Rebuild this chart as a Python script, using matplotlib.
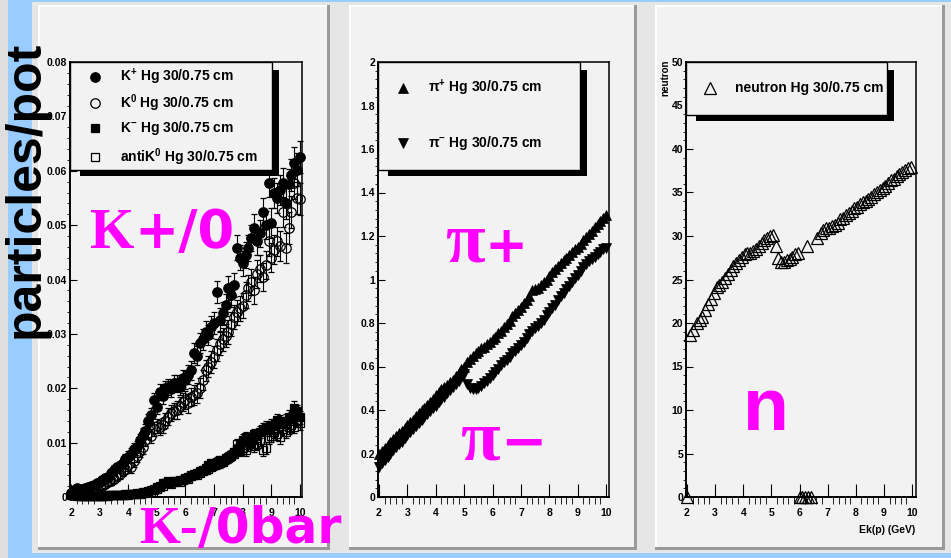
import matplotlib
matplotlib.use("Agg")
import matplotlib.pyplot as plt
from matplotlib.patches import Rectangle
from matplotlib.lines import Line2D
from matplotlib.ticker import MultipleLocator

plt.rcParams['font.family'] = ['Liberation Sans', 'DejaVu Sans']
plt.rcParams['font.weight'] = 'bold'
plt.rcParams['mathtext.fontset'] = 'custom'
plt.rcParams['mathtext.rm'] = 'Liberation Sans:bold'
plt.rcParams['mathtext.it'] = 'Liberation Sans:bold'
plt.rcParams['mathtext.bf'] = 'Liberation Sans:bold'

# ---- data ----
energy = [2.0, 2.1, 2.2, 2.3, 2.4, 2.5, 2.6, 2.7, 2.8, 2.9,
          3.0, 3.1, 3.2, 3.3, 3.4, 3.5, 3.6, 3.7, 3.8, 3.9,
          4.0, 4.1, 4.2, 4.3, 4.4, 4.5, 4.6, 4.7, 4.8, 4.9,
          5.0, 5.1, 5.2, 5.3, 5.4, 5.5, 5.6, 5.7, 5.8, 5.9,
          6.0, 6.1, 6.2, 6.3, 6.4, 6.5, 6.6, 6.7, 6.8, 6.9,
          7.0, 7.1, 7.2, 7.3, 7.4, 7.5, 7.6, 7.7, 7.8, 7.9,
          8.0, 8.1, 8.2, 8.3, 8.4, 8.5, 8.6, 8.7, 8.8, 8.9,
          9.0, 9.1, 9.2, 9.3, 9.4, 9.5, 9.6, 9.7, 9.8, 9.9,
          10.0]

kplus = [0.0008, 0.0012, 0.0017, 0.0010, 0.0014, 0.0016, 0.0019, 0.0021, 0.0022, 0.0026,
         0.0028, 0.0031, 0.0035, 0.0036, 0.0044, 0.0050, 0.0055, 0.0057, 0.0063, 0.0070,
         0.0074, 0.0080, 0.0088, 0.0092, 0.0105, 0.0114, 0.0122, 0.0140, 0.0151, 0.0178,
         0.0165, 0.0193, 0.0185, 0.0200, 0.0202, 0.0198, 0.0210, 0.0209, 0.0203, 0.0218,
         0.0215, 0.0225, 0.0233, 0.0265, 0.0260, 0.0283, 0.0290, 0.0304, 0.0298, 0.0313,
         0.0320, 0.0377, 0.0326, 0.0338, 0.0353, 0.0384, 0.0372, 0.0390, 0.0458, 0.0440,
         0.0430, 0.0445, 0.0458, 0.0476, 0.0495, 0.0470, 0.0485, 0.0524, 0.0500, 0.0577,
         0.0504, 0.0559, 0.0550, 0.0565, 0.0577, 0.0540, 0.0575, 0.0592, 0.0614, 0.0602,
         0.0625]

k0 = [0.0004, 0.0006, 0.0005, 0.0008, 0.0007, 0.0010, 0.0011, 0.0012, 0.0014, 0.0016,
      0.0019, 0.0021, 0.0024, 0.0027, 0.0030, 0.0034, 0.0038, 0.0042, 0.0048, 0.0052,
      0.0058, 0.0055, 0.0066, 0.0075, 0.0085, 0.0092, 0.0105, 0.0118, 0.0112, 0.0125,
      0.0131, 0.0128, 0.0132, 0.0140, 0.0148, 0.0154, 0.0158, 0.0160, 0.0168, 0.0175,
      0.0178, 0.0172, 0.0184, 0.0188, 0.0191, 0.0200, 0.0215, 0.0233, 0.0240, 0.0248,
      0.0258, 0.0270, 0.0282, 0.0290, 0.0297, 0.0304, 0.0318, 0.0331, 0.0340, 0.0347,
      0.0352, 0.0372, 0.0385, 0.0395, 0.0380, 0.0410, 0.0420, 0.0405, 0.0427, 0.0470,
      0.0440, 0.0455, 0.0470, 0.0462, 0.0524, 0.0458, 0.0495, 0.0524, 0.0577, 0.0550,
      0.0548]

kminus = [0.0005, 0.0004, 0.0003, 0.0003, 0.0002, 0.0002, 0.0002, 0.0002, 0.0002, 0.0002,
          0.0002, 0.0002, 0.0003, 0.0003, 0.0003, 0.0003, 0.0004, 0.0004, 0.0004, 0.0005,
          0.0005, 0.0006, 0.0006, 0.0007, 0.0008, 0.0009, 0.0010, 0.0011, 0.0013, 0.0015,
          0.0018, 0.0021, 0.0026, 0.0025, 0.0028, 0.0027, 0.0030, 0.0029, 0.0032, 0.0031,
          0.0035, 0.0037, 0.0040, 0.0042, 0.0044, 0.0048, 0.0050, 0.0053, 0.0058, 0.0062,
          0.0060, 0.0065, 0.0068, 0.0066, 0.0072, 0.0074, 0.0078, 0.0082, 0.0088, 0.0095,
          0.0105, 0.0110, 0.0102, 0.0108, 0.0115, 0.0112, 0.0120, 0.0125, 0.0129, 0.0124,
          0.0132, 0.0130, 0.0142, 0.0138, 0.0135, 0.0140, 0.0148, 0.0145, 0.0164, 0.0158,
          0.0147]

antik0 = [0.0003, 0.0003, 0.0002, 0.0002, 0.0002, 0.0001, 0.0001, 0.0002, 0.0001, 0.0002,
          0.0002, 0.0002, 0.0002, 0.0002, 0.0003, 0.0003, 0.0003, 0.0003, 0.0004, 0.0004,
          0.0004, 0.0005, 0.0005, 0.0006, 0.0006, 0.0007, 0.0008, 0.0009, 0.0010, 0.0012,
          0.0014, 0.0018, 0.0021, 0.0026, 0.0029, 0.0024, 0.0027, 0.0030, 0.0028, 0.0031,
          0.0034, 0.0033, 0.0038, 0.0040, 0.0041, 0.0045, 0.0047, 0.0050, 0.0052, 0.0055,
          0.0058, 0.0060, 0.0062, 0.0065, 0.0069, 0.0072, 0.0075, 0.0080, 0.0098, 0.0085,
          0.0090, 0.0086, 0.0095, 0.0100, 0.0093, 0.0098, 0.0104, 0.0086, 0.0090, 0.0108,
          0.0112, 0.0120, 0.0115, 0.0110, 0.0125, 0.0120, 0.0128, 0.0132, 0.0129, 0.0140,
          0.0136]

# error bars: K+ / K0 share one size, K- / antiK0 another
err_kpos = [0.0003, 0.0003, 0.0004, 0.0004, 0.0004, 0.0005, 0.0005, 0.0005, 0.0006, 0.0006,
            0.0006, 0.0007, 0.0007, 0.0007, 0.0008, 0.0008, 0.0008, 0.0009, 0.0009, 0.0009,
            0.0010, 0.0010, 0.0011, 0.0011, 0.0011, 0.0012, 0.0012, 0.0012, 0.0013, 0.0013,
            0.0013, 0.0014, 0.0014, 0.0014, 0.0015, 0.0015, 0.0015, 0.0016, 0.0016, 0.0016,
            0.0017, 0.0017, 0.0017, 0.0018, 0.0018, 0.0018, 0.0019, 0.0019, 0.0019, 0.0020,
            0.0020, 0.0020, 0.0021, 0.0021, 0.0021, 0.0022, 0.0022, 0.0022, 0.0023, 0.0023,
            0.0023, 0.0024, 0.0024, 0.0024, 0.0025, 0.0025, 0.0025, 0.0026, 0.0026, 0.0026,
            0.0027, 0.0027, 0.0027, 0.0028, 0.0028, 0.0028, 0.0029, 0.0029, 0.0029, 0.0030,
            0.0030]

err_kneg = [0.0001, 0.0001, 0.0001, 0.0001, 0.0001, 0.0001, 0.0001, 0.0001, 0.0001, 0.0001,
            0.0001, 0.0001, 0.0001, 0.0001, 0.0002, 0.0002, 0.0002, 0.0002, 0.0002, 0.0002,
            0.0002, 0.0002, 0.0002, 0.0003, 0.0003, 0.0003, 0.0003, 0.0003, 0.0003, 0.0004,
            0.0004, 0.0004, 0.0004, 0.0004, 0.0005, 0.0005, 0.0005, 0.0005, 0.0005, 0.0005,
            0.0006, 0.0006, 0.0006, 0.0006, 0.0006, 0.0007, 0.0007, 0.0007, 0.0007, 0.0007,
            0.0008, 0.0008, 0.0008, 0.0008, 0.0008, 0.0009, 0.0009, 0.0009, 0.0009, 0.0009,
            0.0010, 0.0010, 0.0010, 0.0010, 0.0010, 0.0010, 0.0011, 0.0011, 0.0011, 0.0011,
            0.0011, 0.0011, 0.0011, 0.0012, 0.0012, 0.0012, 0.0012, 0.0012, 0.0012, 0.0012,
            0.0012]

piplus = [0.200, 0.212, 0.225, 0.240, 0.255, 0.265, 0.280, 0.292, 0.305, 0.318,
          0.330, 0.345, 0.356, 0.372, 0.385, 0.398, 0.410, 0.425, 0.438, 0.452,
          0.470, 0.485, 0.495, 0.505, 0.515, 0.528, 0.540, 0.555, 0.572, 0.590,
          0.600, 0.620, 0.635, 0.648, 0.660, 0.672, 0.685, 0.690, 0.702, 0.712,
          0.725, 0.735, 0.752, 0.765, 0.780, 0.795, 0.810, 0.830, 0.845, 0.860,
          0.875, 0.890, 0.905, 0.925, 0.950, 0.955, 0.962, 0.975, 0.990, 1.000,
          1.015, 1.035, 1.050, 1.062, 1.075, 1.090, 1.100, 1.112, 1.125, 1.138,
          1.150, 1.165, 1.180, 1.195, 1.210, 1.225, 1.240, 1.255, 1.270, 1.285,
          1.295]

piminus = [0.140, 0.155, 0.170, 0.185, 0.200, 0.215, 0.228, 0.242, 0.255, 0.270,
           0.285, 0.300, 0.312, 0.325, 0.340, 0.355, 0.368, 0.382, 0.395, 0.408,
           0.420, 0.438, 0.450, 0.462, 0.478, 0.492, 0.505, 0.520, 0.535, 0.550,
           0.565, 0.520, 0.500, 0.495, 0.498, 0.502, 0.510, 0.522, 0.535, 0.548,
           0.560, 0.575, 0.590, 0.605, 0.620, 0.632, 0.645, 0.660, 0.672, 0.685,
           0.698, 0.712, 0.730, 0.748, 0.762, 0.775, 0.788, 0.800, 0.815, 0.835,
           0.850, 0.868, 0.885, 0.905, 0.925, 0.940, 0.955, 0.970, 0.990, 1.005,
           1.020, 1.040, 1.058, 1.072, 1.085, 1.095, 1.105, 1.118, 1.128, 1.138,
           1.145]

neutron_x = [2.0, 2.1, 2.2, 2.35, 2.45, 2.55, 2.65, 2.75, 2.85, 2.95,
             3.05, 3.15, 3.25, 3.35, 3.45, 3.55, 3.65, 3.75, 3.85, 3.95,
             4.05, 4.15, 4.25, 4.35, 4.45, 4.55, 4.65, 4.75, 4.85, 4.95,
             5.05, 5.15, 5.25, 5.35, 5.45, 5.55, 5.65, 5.75, 5.85, 5.95,
             6.0, 6.1, 6.2, 6.27, 6.3, 6.4, 6.63, 6.75, 6.85, 6.95,
             7.05, 7.15, 7.25, 7.35, 7.45, 7.55, 7.65, 7.75, 7.85, 7.95,
             8.05, 8.15, 8.25, 8.35, 8.45, 8.55, 8.65, 8.75, 8.85, 8.95,
             9.05, 9.15, 9.25, 9.35, 9.45, 9.55, 9.65, 9.75, 9.85, 9.95]
neutron_y = [0.0, 18.6, 19.2, 20.0, 20.3, 20.7, 21.5, 22.2, 22.8, 23.5,
             24.1, 24.4, 24.7, 25.2, 25.6, 26.1, 26.5, 26.9, 27.2, 27.6,
             27.9, 28.0, 28.1, 28.3, 28.5, 28.8, 29.2, 29.5, 29.8, 30.0,
             30.1, 28.8, 27.5, 27.0, 27.0, 27.2, 27.4, 27.6, 27.9, 28.1,
             0.0, 0.0, 0.0, 28.8, 0.0, 0.0, 29.8, 30.3, 30.7, 30.9,
             30.9, 31.1, 31.3, 31.5, 31.9, 32.1, 32.4, 32.6, 32.9, 33.2,
             33.3, 33.7, 33.9, 34.0, 34.2, 34.5, 34.8, 35.1, 35.3, 35.5,
             35.8, 36.1, 36.4, 36.6, 36.9, 37.1, 37.3, 37.6, 37.8, 37.9]

x_ticks = [2, 3, 4, 5, 6, 7, 8, 9, 10]
x_tick_labels = ['2', '3', '4', '5', '6', '7', '8', '9', '10']
k_yticks = [0, 0.01, 0.02, 0.03, 0.04, 0.05, 0.06, 0.07, 0.08]
k_ylabels = ['0', '0.01', '0.02', '0.03', '0.04', '0.05', '0.06', '0.07', '0.08']
pi_yticks = [0, 0.2, 0.4, 0.6, 0.8, 1.0, 1.2, 1.4, 1.6, 1.8, 2.0]
pi_ylabels = ['0', '0.2', '0.4', '0.6', '0.8', '1', '1.2', '1.4', '1.6', '1.8', '2']
n_yticks = [0, 5, 10, 15, 20, 25, 30, 35, 40, 45, 50]
n_ylabels = ['0', '5', '10', '15', '20', '25', '30', '35', '40', '45', '50']

# ---- figure in pixel coordinates ----
W, H = 951, 558
fig = plt.figure(figsize=(W / 100, H / 100), dpi=100, facecolor='#dedede')


def fx(px):
    return px / W


def fy(py):
    return 1 - py / H


def rect(x0, y0, x1, y1, zorder=-5, **kw):
    fig.add_artist(Rectangle((fx(x0), fy(y1)), (x1 - x0) / W, (y1 - y0) / H,
                             transform=fig.transFigure, zorder=zorder, **kw))


# background, blue frame and the three pads
rect(8, 0, 32, 558, fc='#99ccff', lw=0)
rect(32, 0, 951, 2, fc='#99ccff', lw=0)
rect(32, 553, 951, 558, fc='#99ccff', lw=0)
rect(32, 2, 951, 553, fc='#e6e6e6', lw=0)
for x0, x1 in [(38, 330), (349, 637), (655, 945)]:
    rect(x0, 5, x1, 550, fc='#9a9a9a', lw=0)
    rect(x0, 5, x1 - 3, 547, fc='white', lw=0)
    rect(x0 + 2, 7, x1 - 3, 547, fc='#f2f2f2', lw=0)


def make_axes(left, right, xmax, ymax, yticks, ylabels, yminor):
    ax = fig.add_axes([fx(left), fy(497), (right - left) / W, (497 - 62) / H])
    ax.set_facecolor('none')
    ax.set_xlim(1.965, xmax)
    ax.set_ylim(0, ymax)
    ax.set_xticks(x_ticks, labels=x_tick_labels)
    ax.set_yticks(yticks, labels=ylabels)
    ax.xaxis.set_minor_locator(MultipleLocator(0.2))
    ax.yaxis.set_minor_locator(MultipleLocator(yminor))
    ax.tick_params(direction='in', top=False, right=False, width=0.8)
    ax.tick_params(axis='x', which='major', length=9.5, pad=8, labelsize=7.5)
    ax.tick_params(axis='x', which='minor', length=5)
    ax.tick_params(axis='y', which='major', length=5, pad=2, labelsize=7.5)
    ax.tick_params(axis='y', which='minor', length=2.5)
    for s in ax.spines.values():
        s.set_linewidth(1.1)
    ax.spines['left'].set_linewidth(1.4)
    ax.spines['bottom'].set_linewidth(1.4)
    return ax


ax1 = make_axes(70, 302, 10.07, 0.08, k_yticks, k_ylabels, 0.002)
ax2 = make_axes(378, 609, 10.1, 2.0, pi_yticks, pi_ylabels, 0.04)
ax3 = make_axes(686, 916, 10.14, 50, n_yticks, n_ylabels, 1)

styles = {
    'kplus': dict(marker='o', ms=6.8, mfc='black', mec='black', mew=0.9),
    'k0': dict(marker='o', ms=6.8, mfc='none', mec='black', mew=0.9),
    'kminus': dict(marker='s', ms=5.8, mfc='black', mec='black', mew=0.9),
    'antik0': dict(marker='s', ms=6.0, mfc='none', mec='black', mew=0.9),
    'piplus': dict(marker='^', ms=7, mfc='black', mec='black', mew=0.5),
    'piminus': dict(marker='v', ms=7, mfc='black', mec='black', mew=0.5),
    'neutron': dict(marker='^', ms=8, mfc='none', mec='black', mew=0.9),
}

eb = dict(ls='none', ecolor='black', elinewidth=0.8, capsize=2, capthick=0.8, clip_on=False)
ax1.errorbar(energy, kplus, yerr=err_kpos, **eb, **styles['kplus'])
ax1.errorbar(energy, k0, yerr=err_kpos, **eb, **styles['k0'])
ax1.errorbar(energy, kminus, yerr=err_kneg, **eb, **styles['kminus'])
ax1.errorbar(energy, antik0, yerr=err_kneg, **eb, **styles['antik0'])

ax2.plot(energy, piplus, ls='none', clip_on=False, **styles['piplus'])
ax2.plot(energy, piminus, ls='none', clip_on=False, **styles['piminus'])

ax3.plot(neutron_x, neutron_y, ls='none', clip_on=False, **styles['neutron'])

fig.text(fx(665.5), fy(60), 'neutron', rotation=90, ha='center', va='top', fontsize=7)
fig.text(fx(915), fy(530), 'Ek(p) (GeV)', ha='right', va='center', fontsize=7.5)


# ---- ROOT-style legends with black drop shadow ----
def legend_box(box, entries, mx, tx):
    x0, y0, x1, y1 = box
    rect(x0 + 10, y0 + 8, x1 + 7, y1 + 6, zorder=5, fc='black', lw=0)
    rect(x0, y0, x1, y1, zorder=6, fc='#f2f2f2', ec='black', lw=1)
    for row_y, key, label in entries:
        fig.add_artist(Line2D([fx(mx)], [fy(row_y)], ls='none', transform=fig.transFigure,
                              zorder=7, **styles[key]))
        fig.text(fx(tx), fy(row_y), label, ha='left', va='center', fontsize=10, zorder=7)


legend_box((70, 62, 272, 170),
           [(77, 'kplus', 'K$^{+}$ Hg 30/0.75 cm'),
            (103, 'k0', 'K$^{0}$ Hg 30/0.75 cm'),
            (128, 'kminus', 'K$^{-}$ Hg 30/0.75 cm'),
            (157, 'antik0', 'antiK$^{0}$ Hg 30/0.75 cm')], 95, 120)
legend_box((378, 62, 580, 170),
           [(88, 'piplus', 'π$^{+}$ Hg 30/0.75 cm'),
            (143, 'piminus', 'π$^{-}$ Hg 30/0.75 cm')], 403, 428)
legend_box((686, 62, 887, 115),
           [(88, 'neutron', 'neutron Hg 30/0.75 cm')], 710, 735)

# ---- big annotations ----
renderer = fig.canvas.get_renderer()


def chain(x0, base_y, parts, color='#ff00ff'):
    x = x0
    for s, fam, size in parts:
        t = fig.text(fx(x), fy(base_y), s, family=fam, weight='bold', fontsize=size,
                     color=color, ha='left', va='baseline', zorder=10)
        x = t.get_window_extent(renderer).x1


chain(90, 248, [('K', 'Liberation Serif', 41), ('+/0', 'DejaVu Sans', 38)])
chain(139, 543, [('K-', 'Liberation Serif', 38), ('/0bar', 'DejaVu Sans', 35)])
chain(445, 262, [('π', 'Liberation Serif', 52), ('+', 'DejaVu Sans', 37)])
chain(460, 460, [('π', 'Liberation Serif', 52), ('−', 'DejaVu Sans', 40)])
chain(743, 430, [('n', 'Liberation Sans', 54)])

fig.text(fx(39), fy(338), 'particles/pot', rotation=90, rotation_mode='anchor',
         ha='left', va='baseline', fontsize=36, family='Liberation Sans',
         weight='bold', color='black', zorder=10)

fig.savefig('out.png', dpi=100, facecolor=fig.get_facecolor())
